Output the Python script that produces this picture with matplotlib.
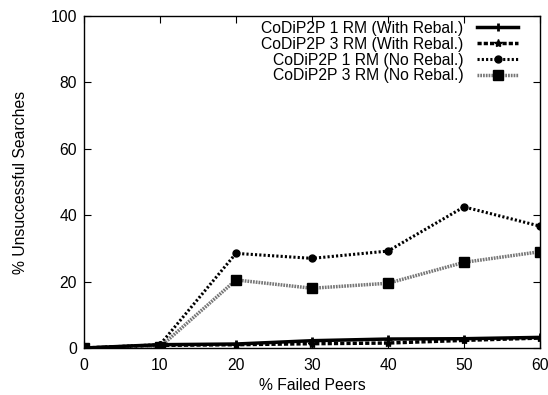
import matplotlib
matplotlib.use('Agg')
import matplotlib.pyplot as plt

plt.rcParams['font.family'] = ['Liberation Sans', 'DejaVu Sans']

# datos
failed = [0, 10, 20, 30, 40, 50, 60]
rm1_rebal = [0, 1.0, 1.2, 2.2, 2.7, 2.8, 3.2]
rm3_rebal = [0, 0.8, 1.0, 1.3, 1.5, 2.3, 3.0]
rm1_norebal = [0, 1.0, 28.5, 27.0, 29.2, 42.5, 36.7]
rm3_norebal = [0, 0.3, 20.5, 18.0, 19.5, 25.8, 29.0]

labels = ['CoDiP2P 1 RM (With Rebal.)', 'CoDiP2P 3 RM (With Rebal.)',
          'CoDiP2P 1 RM (No Rebal.)', 'CoDiP2P 3 RM (No Rebal.)']

fs = 11.3

fig = plt.figure(figsize=(5.48, 3.95), dpi=100)
ax = fig.add_axes([84 / 548, 1 - 348 / 395, (540 - 84) / 548, (348 - 16) / 395])

ax.plot(failed, rm1_rebal, color='black', lw=2.5, marker='+', ms=6, mew=2,
        label=labels[0], zorder=4)
ax.plot(failed, rm3_rebal, color='black', lw=2.5, dashes=(1.2, 0.6), marker='*',
        ms=6, label=labels[1], zorder=3)
ax.plot(failed, rm1_norebal, color='black', lw=2.2, dashes=(0.7, 0.7), marker='o',
        ms=5, label=labels[2], zorder=3)
ax.plot(failed, rm3_norebal, color='#777777', lw=2.5, dashes=(0.5, 0.3), marker='s',
        ms=7, mfc='black', mec='black', label=labels[3], zorder=3)

ax.set_xlim(0, 60)
ax.set_ylim(0, 100)
ax.set_xticks(range(0, 61, 10))
ax.set_yticks(range(0, 101, 20))
ax.tick_params(axis='x', pad=7)
ax.tick_params(axis='y', pad=5)
ax.tick_params(direction='in', top=True, right=True, length=5, labelsize=fs)
for s in ax.spines.values():
    s.set_linewidth(1.0)

ax.set_xlabel('% Failed Peers', fontsize=fs, labelpad=4)
ax.set_ylabel('% Unsuccessful Searches', fontsize=fs, labelpad=16)

leg = ax.legend(loc='upper right', bbox_to_anchor=(0.952, 0.985), frameon=False,
                markerfirst=False, fontsize=fs, handlelength=2.6, labelspacing=0.05,
                borderpad=0, borderaxespad=0, handletextpad=0.9)

fig.savefig('out.png', dpi=100)
